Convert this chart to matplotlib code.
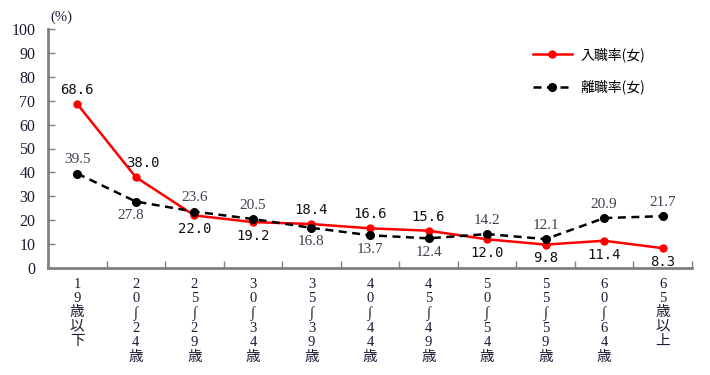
import matplotlib
matplotlib.use("Agg")
import matplotlib.pyplot as plt
import numpy as np

# age groups (vertical labels, one character per line)
ages = ["19歳以下", "20∫24歳", "25∫29歳", "30∫34歳", "35∫39歳", "40∫44歳",
        "45∫49歳", "50∫54歳", "55∫59歳", "60∫64歳", "65歳以上"]
hire_rate = [68.6, 38.0, 22.0, 19.2, 18.4, 16.6, 15.6, 12.0, 9.8, 11.4, 8.3]   # 入職率(女)
leave_rate = [39.5, 27.8, 23.6, 20.5, 16.8, 13.7, 12.4, 14.2, 12.1, 20.9, 21.7]  # 離職率(女)
series_names = ["入職率(女)", "離職率(女)"]

jp_fonts = ["Liberation Serif", "DejaVu Sans", "Noto Sans CJK JP"]
plt.rcParams["font.family"] = jp_fonts

fig = plt.figure(figsize=(7.1, 3.75), dpi=100)
ax = fig.add_axes([48/710, 1-268/375, (692-48)/710, (268-29)/375])

x = np.arange(len(ages))
ax.plot(x, hire_rate, color="red", lw=1.8, marker="o", ms=5,
        label=series_names[0], zorder=3)
ax.plot(x, leave_rate, color="black", lw=1.8, marker="o", ms=5.5,
        dashes=(3.2, 2.2), label=series_names[1], zorder=4)

ax.set_xlim(-0.5, len(ages)-0.5)
ax.set_ylim(0, 100)
ax.set_yticks(range(0, 101, 10))

for s in ["top", "right"]:
    ax.spines[s].set_visible(False)
for s in ["left", "bottom"]:
    ax.spines[s].set_color("#808080")
    ax.spines[s].set_linewidth(2)

ax.tick_params(axis="y", direction="in", length=5, width=1, color="#808080",
               labelsize=11.5, labelcolor="#1a1a33", pad=9)
ax.set_xticks(x)
ax.set_xticklabels(["\n".join(a) for a in ages], fontsize=10.5, color="#1a1a33",
                   linespacing=1.12, va="top")
ax.tick_params(axis="x", which="major", length=0, pad=7)
ax.set_xticks(np.arange(0.5, len(ages), 1.0), minor=True)
ax.tick_params(axis="x", which="minor", direction="in", length=5, width=1,
               color="#808080")

# value labels: +1 above the point, -1 below
hire_pos = [1, 1, -1, -1, 1, 1, 1, -1, -1, -1, -1]
leave_pos = [1, -1, 1, 1, -1, -1, -1, 1, 1, 1, 1]
for i in range(len(ages)):
    dx = 5 if i == 1 else 0
    ax.annotate(f"{hire_rate[i]:.1f}", (x[i], hire_rate[i]),
                xytext=(dx, 10*hire_pos[i]), textcoords="offset points",
                ha="center", va="center", fontsize=10,
                family="DejaVu Sans Mono", color="#111111")
    dx = -4 if i == 1 else 0
    ax.annotate(f"{leave_rate[i]:.1f}", (x[i], leave_rate[i]),
                xytext=(dx, 10*leave_pos[i]), textcoords="offset points",
                ha="center", va="center", fontsize=11,
                family="Liberation Serif", color="#404050")

fig.text(50/710, 1-17/375, "(%)", fontsize=10.5, color="#1a1a33",
         ha="left", va="center")

ax.legend(loc="upper left", bbox_to_anchor=(533/710, 1-47/375),
          bbox_transform=fig.transFigure, frameon=False,
          prop={"family": ["Noto Sans CJK JP"], "size": 10},
          handlelength=2.8, handletextpad=0.6, labelspacing=1.3,
          borderpad=0, borderaxespad=0)

fig.savefig("out.png", dpi=100)
